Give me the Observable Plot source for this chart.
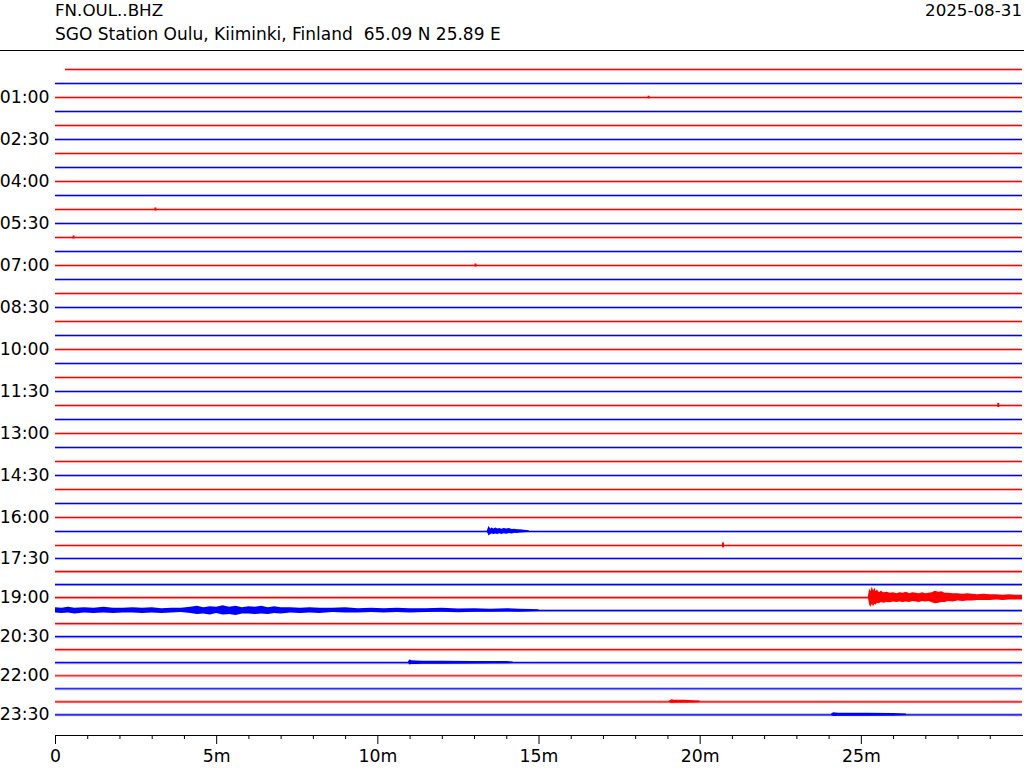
<!DOCTYPE html>
<html><head><meta charset="utf-8">
<script src="https://cdn.jsdelivr.net/npm/d3@7"></script>
<script src="https://cdn.jsdelivr.net/npm/@observablehq/plot@0.6"></script>
<style>
body{margin:0;background:#fff;font-family:"DejaVu Sans",sans-serif;}
#wrap{position:relative;width:1024px;height:768px;overflow:hidden;background:#fff}
#hdr{position:relative;height:50px;border-bottom:1px solid #000}
.t{position:absolute;font-size:16.7px;color:#000;white-space:pre;line-height:1}
#chart svg{display:block}
</style></head><body>
<div id="wrap"><div id="hdr">
<div class="t" style="left:55px;top:2px">FN.OUL..BHZ</div>
<div class="t" style="left:55px;top:26px;font-size:17px">SGO Station Oulu, Kiiminki, Finland  65.09 N 25.89 E</div>
<div class="t" style="right:2px;top:2px">2025-08-31</div>
</div><div id="chart"></div></div>
<script>
// ---- data ----
// 48 half-hour rows (row 0 = 00:00 ... row 47 = 23:30)
const rowIndex = d3.range(48);
const firstSampleMinute = 0.31; // first row starts slightly after 00:00
const rowLabelRows = [2,5,8,11,14,17,20,23,26,29,32,35,38,41,44,47];
const rowLabelText = ["01:00","02:30","04:00","05:30","07:00","08:30","10:00","11:30","13:00","14:30","16:00","17:30","19:00","20:30","22:00","23:30"];
const majorMinutes = [0,5,10,15,20,25];
const minorMinutes = [1,2,3,4,6,7,8,9,11,12,13,14,16,17,18,19,21,22,23,24,26,27,28,29];

// event envelopes (minutes within row, amplitude up / down in relative units)
const ev1630 = {row:33, t:[13.40,13.45,13.50,13.55,13.6,13.66,13.72,13.78,13.85,13.92,14.0,14.08,14.17,14.25,14.33,14.42,14.55,14.7],
  up:[0.8,5,2.5,3.5,2.5,3.5,2.5,3,2.2,3,2.5,2.8,2,2.2,1.6,1.8,1.2,0.8], dn:[0.8,4.3,3,2.5,3,2.5,3,2.3,2.8,2.2,2.6,2,2.4,1.8,2,1.5,1.2,0.8]};
const ev1900 = {row:38,
  t:[25.22,25.26,25.30,25.34,25.38,25.42,25.46,25.5,25.56,25.62,25.7,25.8,25.9,26.0,26.1,26.2,26.3,26.4,26.5,26.6,26.7,26.8,26.9,27.0,27.1,27.2,27.3,27.4,27.5,27.6,27.7,27.85,28.0,28.15,28.3,28.45,28.6,28.8,29.0,29.2,29.4,29.6,29.8,30.0],
  up:[0.8,9,6,11,7,10,6,8,5,6.5,5,5.5,4.5,5,4,5,4.5,5.5,4,5,4.5,4,5,4,4.5,5,6.5,5.5,6,4.5,4.5,4,4,3.5,4,3.5,3,3.5,3,3,2.5,3,2.5,2.5],
  dn:[0.8,8,10,7,9.6,7,8,6,6.5,5,6,5,5.5,4.5,5,4.5,5,4.5,5,4,4.5,5,4,4.5,4,5.5,6.5,6,5,5,4,4.5,3.5,4,3.5,3.5,3,3,3,2.5,3,2.5,2.5,2.5]};
const ev1930 = {row:39,
  t:[0,0.2,0.4,0.6,0.9,1.2,1.5,1.8,2.1,2.4,2.7,3.0,3.3,3.6,3.9,4.2,4.4,4.6,4.8,5.0,5.2,5.4,5.6,5.8,6.0,6.2,6.4,6.6,6.8,7.0,7.3,7.6,7.9,8.2,8.6,9.0,9.4,9.8,10.2,10.6,11.0,11.5,12.0,12.5,13.0,13.5,14.0,14.4,14.8,15.0],
  up:[3,2.5,3.5,2.5,3,2.5,3.5,2.5,2.5,3,2.5,3,2,2.5,2.5,3.5,4.5,3,4,3.5,5,3.5,4.5,3,4,3.5,4.5,3,4,3,3,2.5,3,2.5,2.5,3,2,2.5,2,2.5,2,2,2.5,1.8,2,1.5,2,1.5,1.2,1],
  dn:[2.5,3,2.5,3.5,2.5,3,2.5,3,2.5,2.5,3,2.5,3,2.5,2,3,4,3.5,4.5,3,4.5,4,5,3.5,3.5,4,3.5,4,3,3.5,2.5,3,2.5,3,2,2.5,2.5,2,2.5,2,2.5,2,1.8,2.2,1.6,1.8,1.5,1.6,1.2,1]};
const ev2130 = {row:43, t:[10.95,11.0,11.05,11.2,11.4,12,13,14,14.2],
  up:[0.8,3,2,1.8,1.5,1.5,1.3,1.2,0.8], dn:[0.8,2.5,2,1.8,1.5,1.5,1.3,1.2,0.8]};
const ev2300 = {row:46, t:[19.05,19.13,19.2,19.5,19.8,20.0],
  up:[0.8,2,1.6,1.5,1.2,0.8], dn:[0.8,1.8,1.5,1.4,1.2,0.8]};
const ev2330 = {row:47, t:[24.08,24.14,24.3,24.7,25.2,26.0,26.4],
  up:[0.8,2.2,1.6,1.6,1.5,1.3,0.8], dn:[0.8,1.8,1.6,1.6,1.5,1.3,0.8]};
const events = [ev1630, ev1900, ev1930, ev2130, ev2300, ev2330];

// isolated spikes
const spikeRow = [24, 34, 14, 10, 12, 2];
const spikeMinute = [29.25, 20.71, 13.03, 3.1, 0.56, 18.4];
const spikeAmp = [2, 2.5, 1.5, 1.5, 1.5, 1.3];

// ---- derived tables ----
const gain = 1/13.6; // amplitude units -> row units
const rowColor = r => (r % 2 === 0 ? "#ff0000" : "#0000ff");
const envTable = events.flatMap((e, k) => e.t.map((t, i) => ({id:k, t, y1:e.row - e.up[i]*gain, y2:e.row + e.dn[i]*gain, color:rowColor(e.row)})));
const spikes = spikeRow.map((r, i) => ({row:r, t:spikeMinute[i], y1:r - spikeAmp[i]*gain, y2:r + spikeAmp[i]*gain, color:rowColor(r)}));
const rows = rowIndex.map(r => ({row:r, start: r === 0 ? firstSampleMinute : 0, end:30, color:rowColor(r)}));
const labelByRow = new Map(rowLabelRows.map((r, i) => [r, rowLabelText[i]]));

const chart = Plot.plot({
  width:1024, height:717,
  marginLeft:55, marginRight:2, marginTop:10, marginBottom:33,
  style:{fontFamily:"DejaVu Sans, sans-serif", fontSize:"17.3px", color:"#000", background:"#fff", overflow:"visible"},
  x:{type:"linear", domain:[0,30]},
  y:{type:"linear", domain:[0,34,47], range:[18,494,663.3]},
  color:{type:"identity"},
  marks:[
    Plot.ruleY(rows, {y:"row", x1:"start", x2:"end", stroke:"color", strokeWidth:3, strokeOpacity:0.3}),
    Plot.ruleY(rows, {y:"row", x1:"start", x2:"end", stroke:"color", strokeWidth:1.2}),
    Plot.areaY(envTable, {x:"t", y1:"y1", y2:"y2", z:"id", fill:"color", curve:"linear"}),
    Plot.ruleX(spikes, {x:"t", y1:"y1", y2:"y2", stroke:"color", strokeWidth:2}),
    Plot.frame({anchor:"bottom", stroke:"#000"}),
    Plot.axisX({ticks:majorMinutes, tickFormat:d => d === 0 ? "0" : d + "m", tickSize:9, tickPadding:5, fontSize:17.3, label:null}),
    Plot.axisX({ticks:minorMinutes, tickFormat:() => "", tickSize:4, label:null}),
    Plot.axisY({ticks:rowLabelRows, tickFormat:d => labelByRow.get(d), tickSize:0, tickPadding:6, fontSize:17.3, label:null})
  ]
});
document.getElementById("chart").appendChild(chart);
</script>
</body></html>
